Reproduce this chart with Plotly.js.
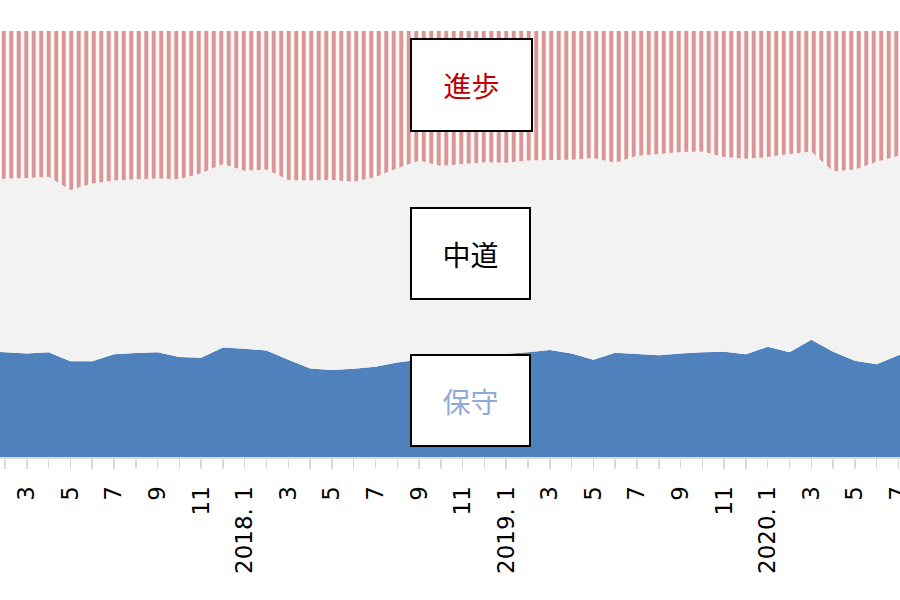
<!DOCTYPE html>
<html>
<head>
<meta charset="utf-8">
<script src="https://cdn.plot.ly/plotly-3.0.1.min.js"></script>
<style>
  html, body { margin: 0; padding: 0; background: #fff; }
  #chart-area { width: 900px; height: 600px; }
</style>
</head>
<body>
<div id="chart-area"></div>
<script>
// months shown on the x axis (2017.1 .. 2020.8), one point per month
const months = [
  "2017.1", "2017.2", "2017.3", "2017.4", "2017.5", "2017.6", "2017.7", "2017.8", "2017.9", "2017.10", "2017.11", "2017.12",
  "2018.1", "2018.2", "2018.3", "2018.4", "2018.5", "2018.6", "2018.7", "2018.8", "2018.9", "2018.10", "2018.11", "2018.12",
  "2019.1", "2019.2", "2019.3", "2019.4", "2019.5", "2019.6", "2019.7", "2019.8", "2019.9", "2019.10", "2019.11", "2019.12",
  "2020.1", "2020.2", "2020.3", "2020.4", "2020.5", "2020.6", "2020.7", "2020.8",
];

// share of each group, percent
const conservative = [
  24.9, 24.6, 24.3, 24.6, 22.5, 22.5, 24.1, 24.4, 24.6, 23.5, 23.3, 25.7,
  25.4, 25.0, 22.8, 20.8, 20.4, 20.7, 21.2, 22.2, 22.8, 23.2, 23.5, 23.7,
  24.2, 24.6, 25.1, 24.3, 22.8, 24.5, 24.2, 23.9, 24.3, 24.6, 24.7, 24.1,
  25.9, 24.6, 27.5, 24.7, 22.6, 21.8, 23.9, 25.1,
];
const progressive = [
  35.0, 34.7, 34.5, 34.2, 37.3, 35.8, 35.1, 34.8, 34.6, 34.8, 33.4, 31.2,
  32.8, 32.5, 35.0, 35.1, 35.0, 35.4, 34.3, 32.2, 30.4, 31.7, 31.2, 30.8,
  30.9, 30.4, 30.3, 30.2, 29.8, 30.9, 29.3, 28.9, 28.4, 28.3, 29.6, 30.0,
  29.6, 28.9, 28.3, 33.0, 32.5, 30.7, 29.3, 28.6,
];
// middle group is whatever is left over
const moderate = conservative.map((c, i) => +(100 - c - progressive[i]).toFixed(1));

const groupNames = ["保守", "中道", "進歩"];

// x positions are month indices; label odd months, "YYYY. 1" for January
const xIdx = months.map((m, i) => i);
const tickText = months.map((m) => {
  const [yr, mo] = m.split(".");
  if (mo === "1") return yr + ". 1";
  return Number(mo) % 2 === 1 ? mo : "";
});

const data = [
  {
    x: xIdx,
    y: conservative,
    name: groupNames[0],
    type: "scatter",
    mode: "none",
    stackgroup: "one",
    groupnorm: "percent",
    fillcolor: "#4f81bd",
    line: { width: 0 },
    hoverinfo: "none",
  },
  {
    x: xIdx,
    y: moderate,
    name: groupNames[1],
    type: "scatter",
    mode: "none",
    stackgroup: "one",
    fillcolor: "#f2f2f2",
    line: { width: 0 },
    hoverinfo: "none",
  },
  {
    x: xIdx,
    y: progressive,
    name: groupNames[2],
    type: "scatter",
    mode: "none",
    stackgroup: "one",
    fillcolor: "#ffffff",
    fillpattern: {
      shape: "|",
      fgcolor: "#d99694",
      bgcolor: "#ffffff",
      size: 7.5,
      solidity: 0.55,
    },
    line: { width: 0 },
    hoverinfo: "none",
  },
];

// label boxes sitting on top of each band
function labelBox(text, color, x, y, w, h) {
  return {
    text: text,
    xref: "paper",
    yref: "paper",
    x: x,
    y: y,
    xanchor: "center",
    yanchor: "middle",
    showarrow: false,
    width: w,
    height: h,
    bgcolor: "#ffffff",
    bordercolor: "#000000",
    borderwidth: 2,
    borderpad: 0,
    font: { family: "Noto Sans CJK JP", size: 28, color: color },
  };
}

const layout = {
  width: 900,
  height: 600,
  margin: { l: 0, r: 0, t: 31, b: 143 },
  paper_bgcolor: "#ffffff",
  plot_bgcolor: "#ffffff",
  showlegend: false,
  xaxis: {
    range: [0.77, 42.07],
    tickmode: "array",
    tickvals: xIdx,
    ticktext: tickText,
    tickangle: -90,
    ticks: "outside",
    ticklen: 10,
    tickwidth: 1.5,
    tickcolor: "#d9d9d9",
    ticklabelstandoff: 8,
    ticklabeloverflow: "allow",
    showline: true,
    linecolor: "#d9d9d9",
    linewidth: 2,
    showgrid: false,
    zeroline: false,
    automargin: false,
    tickfont: { family: "DejaVu Sans", size: 23, color: "#000000" },
    fixedrange: true,
  },
  yaxis: {
    range: [0, 100],
    visible: false,
    showgrid: false,
    zeroline: false,
    fixedrange: true,
  },
  annotations: [
    labelBox(groupNames[2], "#c00000", 0.5239, 0.873, 119, 90),
    labelBox(groupNames[1], "#000000", 0.5228, 0.4777, 117, 89),
    labelBox(groupNames[0], "#8eaadb", 0.5228, 0.1338, 117, 89),
  ],
};

Plotly.newPlot("chart-area", data, layout, { staticPlot: true });
</script>
</body>
</html>
